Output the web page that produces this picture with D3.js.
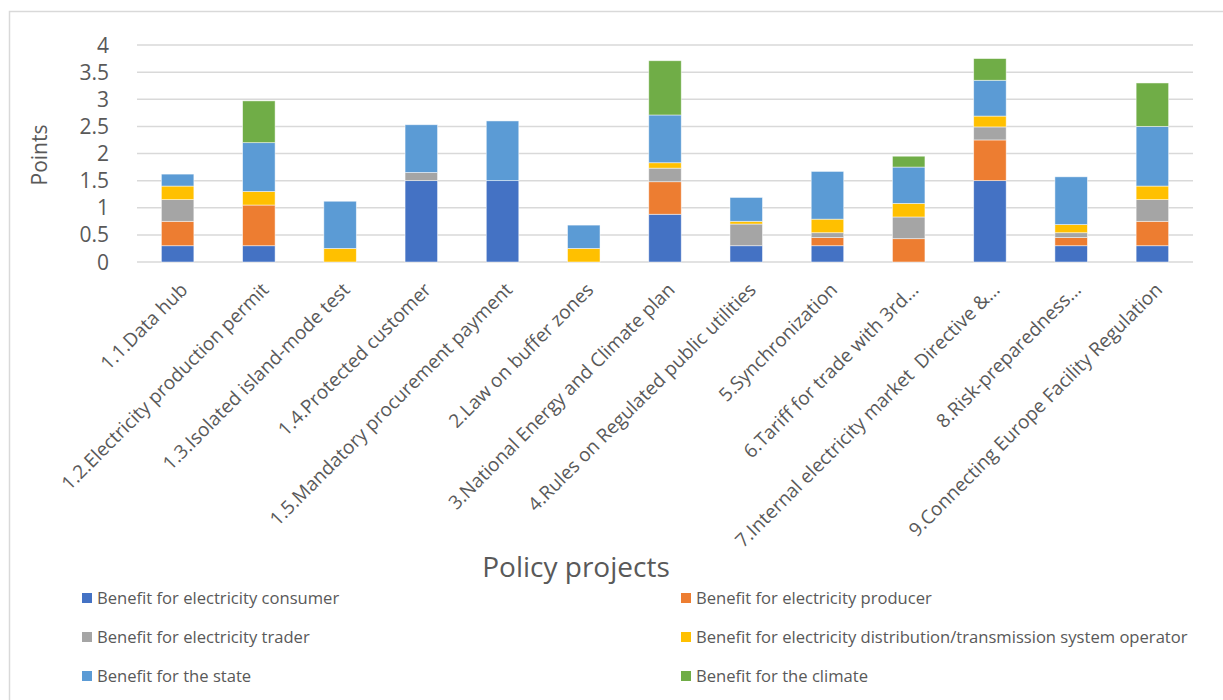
<!DOCTYPE html>
<html>
<head>
<meta charset="utf-8">
<script src="https://cdn.jsdelivr.net/npm/d3@7/dist/d3.min.js"></script>
<style>
  html, body { margin: 0; padding: 0; background: #fff; }
  svg { display: block; }
  text { font-family: "Open Sans", Lato, sans-serif; fill: #595959; }
</style>
</head>
<body>
<svg id="chart" width="1223" height="700"></svg>
<script>
// Policy projects on the category axis
const categories = [
  "1.1.Data hub",
  "1.2.Electricity production permit",
  "1.3.Isolated island-mode test",
  "1.4.Protected customer",
  "1.5.Mandatory procurement payment",
  "2.Law on buffer zones",
  "3.National Energy and Climate plan",
  "4.Rules on Regulated public utilities",
  "5.Synchronization",
  "6.Tariff for trade with 3rd…",
  "7.Internal electricity market  Directive &…",
  "8.Risk-preparedness…",
  "9.Connecting Europe Facility Regulation"
];

// Benefit points per stakeholder, one value per project
const consumer = [0.3, 0.3, 0, 1.5, 1.5, 0, 0.88, 0.3, 0.3, 0, 1.5, 0.3, 0.3];
const producer = [0.45, 0.75, 0, 0, 0, 0, 0.6, 0, 0.15, 0.43, 0.75, 0.15, 0.45];
const trader   = [0.4, 0, 0, 0.15, 0, 0, 0.25, 0.4, 0.09, 0.4, 0.24, 0.09, 0.4];
const operator = [0.25, 0.25, 0.25, 0, 0, 0.25, 0.1, 0.05, 0.25, 0.25, 0.2, 0.15, 0.25];
const state    = [0.22, 0.9, 0.87, 0.88, 1.1, 0.43, 0.88, 0.44, 0.88, 0.67, 0.66, 0.88, 1.1];
const climate  = [0, 0.77, 0, 0, 0, 0, 1.0, 0, 0, 0.2, 0.4, 0, 0.8];

const seriesNames = [
  "Benefit for electricity consumer",
  "Benefit for electricity producer",
  "Benefit for electricity trader",
  "Benefit for electricity distribution/transmission system operator",
  "Benefit for the state",
  "Benefit for the climate"
];
const seriesValues = [consumer, producer, trader, operator, state, climate];
const seriesColors = ["#4472C4", "#ED7D31", "#A5A5A5", "#FFC000", "#5B9BD5", "#70AD47"];

const yTicks = [0, 0.5, 1, 1.5, 2, 2.5, 3, 3.5, 4];

const svg = d3.select("#chart");

// outer chart frame
svg.append("rect")
  .attr("x", 9.5).attr("y", 11.5)
  .attr("width", 1230).attr("height", 720)
  .attr("fill", "none")
  .attr("stroke", "#D9D9D9")
  .attr("stroke-width", 1.5);

const plot = { left: 137, right: 1193, top: 45, bottom: 262 };

const x = d3.scaleBand()
  .domain(categories)
  .range([plot.left, plot.right])
  .paddingInner(0.6)
  .paddingOuter(0.3);

const y = d3.scaleLinear()
  .domain([0, 4])
  .range([plot.bottom, plot.top]);

// horizontal gridlines
svg.append("g")
  .selectAll("line")
  .data(yTicks)
  .join("line")
  .attr("x1", plot.left).attr("x2", plot.right)
  .attr("y1", d => y(d)).attr("y2", d => y(d))
  .attr("stroke", "#D9D9D9")
  .attr("stroke-width", 1.5);

// y-axis tick labels
svg.append("g")
  .selectAll("text")
  .data(yTicks)
  .join("text")
  .attr("x", plot.left - 28)
  .attr("y", d => y(d))
  .attr("dy", "0.36em")
  .attr("text-anchor", "end")
  .style("font-size", "21px")
  .text(d => String(d));

// stacked bars
const rows = categories.map((c, i) => {
  const r = { category: c };
  seriesNames.forEach((s, j) => { r[s] = seriesValues[j][i]; });
  return r;
});
const stacked = d3.stack().keys(seriesNames)(rows);

svg.append("g")
  .selectAll("g")
  .data(stacked)
  .join("g")
  .attr("fill", (d, i) => seriesColors[i])
  .selectAll("rect")
  .data(d => d.filter(p => p[1] - p[0] > 0))
  .join("rect")
  .attr("x", d => x(d.data.category))
  .attr("width", x.bandwidth())
  .attr("y", d => y(d[1]))
  .attr("height", d => y(d[0]) - y(d[1]))
  .attr("stroke", "#ffffff")
  .attr("stroke-opacity", 0.6)
  .attr("stroke-width", 0.8);

// rotated category labels
svg.append("g")
  .selectAll("text")
  .data(categories)
  .join("text")
  .attr("text-anchor", "end")
  .attr("transform", d => `translate(${x(d) + x.bandwidth() / 2 + 11},${plot.bottom + 29}) rotate(-45)`)
  .style("font-size", "19px")
  .style("white-space", "pre")
  .text(d => d);

// axis titles
svg.append("text")
  .attr("transform", "translate(47,155) rotate(-90)")
  .attr("text-anchor", "middle")
  .style("font-size", "21px")
  .text("Points");

svg.append("text")
  .attr("x", 576).attr("y", 577)
  .attr("text-anchor", "middle")
  .style("font-size", "28px")
  .text("Policy projects");

// legend in two columns
const legendCols = [82, 681];
const legendRows = [598, 637, 676];
const legend = svg.append("g")
  .selectAll("g")
  .data(seriesNames)
  .join("g")
  .attr("transform", (d, i) => `translate(${legendCols[i % 2]},${legendRows[Math.floor(i / 2)]})`);

legend.append("rect")
  .attr("x", 0).attr("y", -5)
  .attr("width", 10).attr("height", 10)
  .attr("fill", (d, i) => seriesColors[i]);

legend.append("text")
  .attr("x", 15).attr("y", 0)
  .attr("dy", "0.35em")
  .style("font-size", "16.6px")
  .text(d => d);
</script>
</body>
</html>
